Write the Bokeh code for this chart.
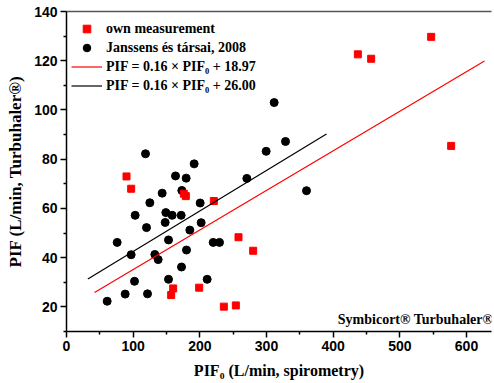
from bokeh.plotting import figure
from bokeh.models import Range1d, LinearAxis, Legend, LegendItem, Label, FixedTicker
from bokeh.embed import file_html
from bokeh.resources import INLINE

# own measurement (red squares)
own_x = [90, 97, 176, 179, 221, 258, 280, 160, 157, 199, 236, 254, 437, 457, 547, 577]
own_y = [73, 68, 66, 65, 63, 48.3, 42.8, 27.5, 24.8, 27.8, 20.1, 20.6, 122.6, 120.8, 129.7, 85.4]

# Janssens és társai, 2008 (black circles)
jan_x = [61, 76, 88, 97, 102, 103, 118.5, 120, 121.5, 125, 132.5, 137.5, 143.5, 148, 149,
         153, 153, 158.5, 163.5, 172, 173, 172.5, 179.5, 180, 185, 191.5, 200.5, 202, 211,
         220, 229.5, 270.5, 299.5, 311.5, 328.5, 360]
jan_y = [22.3, 46.2, 25.2, 41.2, 30.4, 57.2, 82.2, 52.2, 25.3, 62.3, 41.3, 39.2, 66.2, 54.3, 58.3,
         47.2, 31.2, 57.2, 73.2, 57.2, 67.3, 36.2, 72.3, 43.1, 51.2, 78.1, 62.2, 54.2, 31.2,
         46.2, 46.2, 72.2, 83.2, 103, 87.2, 67.2]

# regression lines (end points)
fit_own_x = [42, 627]
fit_own_y = [25.8, 119.9]
fit_jan_x = [32, 390]
fit_jan_y = [31.3, 90.2]

x_ticks = [0, 100, 200, 300, 400, 500, 600]
x_minor = [50, 150, 250, 350, 450, 550]
y_ticks = [20, 40, 60, 80, 100, 120, 140]
y_minor = [10, 30, 50, 70, 90, 110, 130]

legend_labels = ["own measurement", "Janssens és társai, 2008",
                 "PIF = 0.16 × PIF₀ + 18.97", "PIF = 0.16 × PIF₀ + 26.00"]
x_title = "PIF₀ (L/min, spirometry)"
y_title = "PIF (L/min, Turbuhaler®)"
note = "Symbicort® Turbuhaler®"

p = figure(width=493, height=382, output_backend="svg", toolbar_location=None,
           x_range=Range1d(0, 637.5), y_range=Range1d(10, 140),
           min_border_left=66, min_border_right=2, min_border_top=11, min_border_bottom=51,
           x_axis_label=x_title, y_axis_label=y_title)
p.outline_line_color = None
p.xgrid.visible = False
p.ygrid.visible = False
p.background_fill_color = "white"
p.border_fill_color = "white"

for ax, ticks, minor in [(p.xaxis[0], x_ticks, x_minor), (p.yaxis[0], y_ticks, y_minor)]:
    ax.ticker = FixedTicker(ticks=ticks, minor_ticks=minor)
    ax.axis_line_color = "black"
    ax.axis_line_width = 1.5
    ax.major_tick_line_color = "black"
    ax.major_tick_line_width = 1.5
    ax.minor_tick_line_color = "black"
    ax.minor_tick_line_width = 1.5
    ax.major_tick_in = 0
    ax.major_tick_out = 6
    ax.minor_tick_in = 0
    ax.minor_tick_out = 3
    ax.major_label_text_font = "Liberation Sans"
    ax.major_label_text_font_style = "bold"
    ax.major_label_text_font_size = "14px"
    ax.major_label_text_color = "black"
    ax.axis_label_text_font = "Liberation Serif"
    ax.axis_label_text_font_style = "bold"
    ax.axis_label_text_font_size = "16px"
    ax.axis_label_text_color = "black"
    ax.major_label_standoff = 3
    ax.axis_label_standoff = 8
p.yaxis[0].axis_label_text_font_size = "17px"
p.yaxis[0].axis_label_standoff = 6

top = LinearAxis(ticker=FixedTicker(ticks=[]), axis_line_color="#555555", axis_line_width=1.5,
                 major_tick_line_color=None, minor_tick_line_color=None)
p.add_layout(top, "above")

r_jan = p.scatter(jan_x, jan_y, marker="circle", size=8, fill_color="black", line_color="black")
r_own = p.scatter(own_x, own_y, marker="square", size=7, fill_color="red", line_color="red")
r_fo = p.line(fit_own_x, fit_own_y, line_color="red", line_width=1.2)
r_fj = p.line(fit_jan_x, fit_jan_y, line_color="black", line_width=1.2)

legend = Legend(items=[LegendItem(label=legend_labels[0], renderers=[r_own]),
                       LegendItem(label=legend_labels[1], renderers=[r_jan]),
                       LegendItem(label=legend_labels[2], renderers=[r_fo]),
                       LegendItem(label=legend_labels[3], renderers=[r_fj])],
                location=(5, 236), margin=0, padding=6, spacing=0,
                glyph_width=31, glyph_height=19, label_height=19, label_standoff=4,
                border_line_color=None, background_fill_alpha=0,
                label_text_font="Liberation Serif", label_text_font_style="bold",
                label_text_font_size="14px", label_text_color="black")
p.add_layout(legend, "center")

p.add_layout(Label(x=640, y=15, text=note, text_align="right",
                   text_baseline="alphabetic", text_font="Liberation Serif",
                   text_font_style="bold", text_font_size="14px", text_color="black"))

open("out.html", "w").write(file_html(p, INLINE))
